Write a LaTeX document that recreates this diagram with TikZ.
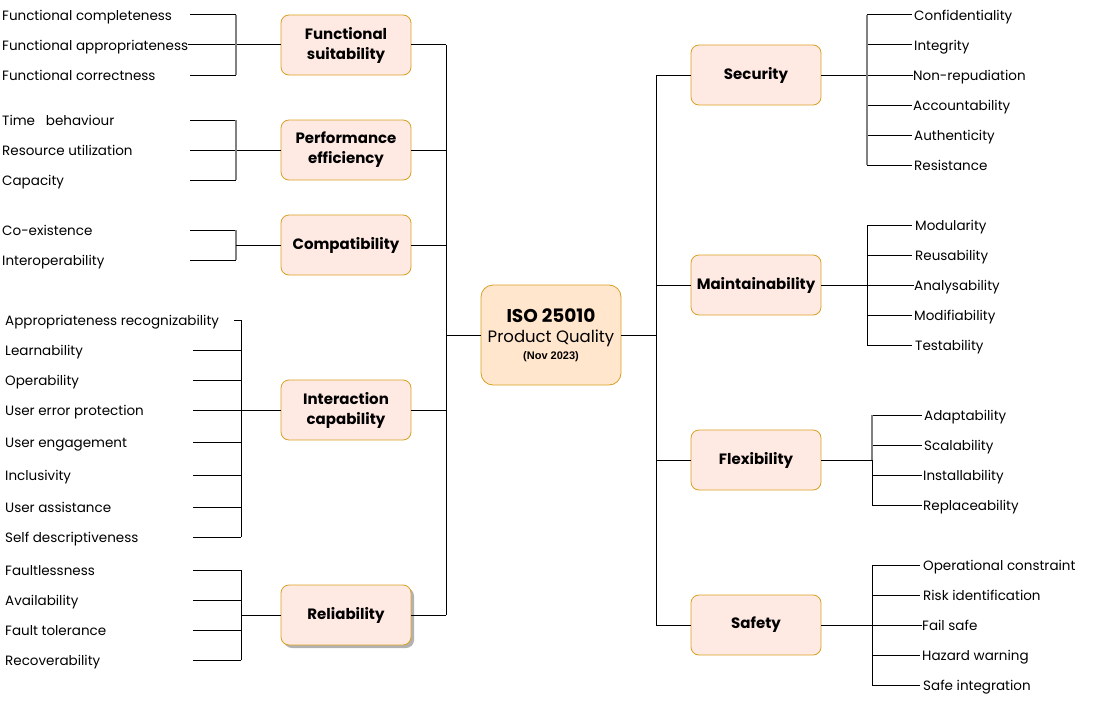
\documentclass[tikz,border=0pt]{standalone}
\usepackage{fontspec}
\setmainfont{Poppins}
\newfontfamily\arialfont{Liberation Sans}
\usetikzlibrary{shadows}
\definecolor{boxfill}{HTML}{FFEAE3}
\definecolor{centerfill}{HTML}{FFE6CC}
\definecolor{boxborder}{HTML}{D9A020}
\definecolor{brkgray}{HTML}{808080}
\tikzset{
  box/.style={draw=boxborder, fill=boxfill, rounded corners=8pt, minimum width=130pt,
    minimum height=60pt, align=center, inner sep=2pt, line width=0.8pt,
    font=\bfseries\fontsize{15}{20}\selectfont},
  leaf/.style={anchor=base west, inner sep=0pt, yshift=-5.4pt, font=\fontsize{13.5}{16}\selectfont},
  conn/.style={draw=black, line width=1pt},
  brk/.style={draw=brkgray, line width=1.6pt},
}
\begin{document}
\begin{tikzpicture}[x=1pt,y=-1pt]
\useasboundingbox (0,0) rectangle (1113,701);
% ---------- centre ----------
\node[box, fill=centerfill, minimum width=140pt, minimum height=100pt, rounded corners=12pt, font=\fontsize{16.5}{20}\selectfont] (iso) at (551,335)
  {{\bfseries\fontsize{18.5}{22}\selectfont ISO 25010}\\Product Quality\\[-3pt]{\arialfont\bfseries\fontsize{11}{13}\selectfont (Nov 2023)}};
% ---------- left boxes ----------
\node[box] (fs) at (346,45) {Functional\\suitability};
\node[box] (pe) at (346,150) {Performance\\efficiency};
\node[box] (co) at (346,245) {Compatibility};
\node[box] (ic) at (346,410) {Interaction\\capability};
\node[box, drop shadow={shadow xshift=3pt, shadow yshift=-3pt, fill=black!30, opacity=1}] (re) at (346,615) {Reliability};
% ---------- right boxes ----------
\node[box] (se) at (756,75) {Security};
\node[box] (ma) at (756,285) {Maintainability};
\node[box] (fl) at (756,460) {Flexibility};
\node[box] (sa) at (756,625) {Safety};
% ---------- trunks ----------
\coordinate (ltop) at (446,45);
\coordinate (lbot) at (446,615);
\draw[conn] (ltop) -- (lbot);
\foreach \b in {fs,pe,co,ic,re} \draw[conn] (\b.east) -- (\b.east -| ltop);
\draw[conn] (iso.west) -- (iso.west -| ltop);
\coordinate (rtop) at (656,75);
\coordinate (rbot) at (656,625);
\draw[conn] (rtop) -- (rbot);
\foreach \b in {se,ma,fl,sa} \draw[conn] (\b.west) -- (\b.west -| rtop);
\draw[conn] (iso.east) -- (iso.east -| rtop);
% ---------- functional suitability ----------
\node[leaf] (fs1) at (2,15) {Functional completeness};
\node[leaf] (fs2) at (2,45) {Functional appropriateness};
\node[leaf] (fs3) at (2,75) {Functional correctness};
\coordinate (fsa1) at (190,15); \coordinate (fsa3) at (190,75);
\coordinate (fsb1) at (236,15); \coordinate (fsb3) at (236,75);
\draw[conn] (fsa1) -- (fsb1);
\draw[conn] (fsa3) -- (fsb3);
\draw[conn] (fs2.east |- fs.west) -- (fs.west);
\draw[brk] (fsb1) -- (fsb3);
% ---------- performance efficiency ----------
\node[leaf] (pe1) at (2,120) {Time \ \ behaviour};
\node[leaf] (pe2) at (2,150) {Resource utilization};
\node[leaf] (pe3) at (2,180) {Capacity};
\coordinate (pea1) at (190,120); \coordinate (pea2) at (190,150); \coordinate (pea3) at (190,180);
\coordinate (peb1) at (236,120); \coordinate (peb3) at (236,180);
\draw[conn] (pea1) -- (peb1);
\draw[conn] (pea3) -- (peb3);
\draw[conn] (pea2) -- (pe.west);
\draw[brk] (peb1) -- (peb3);
% ---------- compatibility ----------
\node[leaf] (co1) at (2,230) {Co-existence};
\node[leaf] (co2) at (2,260) {Interoperability};
\coordinate (coa1) at (190,230); \coordinate (coa2) at (190,260);
\coordinate (cob1) at (236,230); \coordinate (cob2) at (236,260);
\draw[conn] (coa1) -- (cob1);
\draw[conn] (coa2) -- (cob2);
\draw[brk] (cob1) -- (cob2);
\draw[conn] (co.west) -- (co.west -| cob1);
% ---------- interaction capability ----------
\node[leaf] (ic1) at (5,320) {Appropriateness recognizability};
\node[leaf] (ic2) at (5,350) {Learnability};
\node[leaf] (ic3) at (5,380) {Operability};
\node[leaf] (ic4) at (5,410) {User error protection};
\node[leaf] (ic5) at (5,442) {User engagement};
\node[leaf] (ic6) at (5,475) {Inclusivity};
\node[leaf] (ic7) at (5,507) {User assistance};
\node[leaf] (ic8) at (5,537) {Self descriptiveness};
\coordinate (icb1) at (241,320); \coordinate (icb8) at (241,537);
\coordinate (ica1) at (234,320);
\draw[conn] (ica1) -- (icb1);
\foreach \i/\y in {2/350,3/380,5/442,6/475,7/507,8/537}
  \draw[conn] (193,\y) coordinate (ica\i) -- (241,\y) coordinate (icb\i);
\coordinate (ica4) at (193,410);
\draw[conn] (ica4) -- (ic.west);
\draw[conn] (icb1) -- (icb8);
% ---------- reliability ----------
\node[leaf] (re1) at (5,570) {Faultlessness};
\node[leaf] (re2) at (5,600) {Availability};
\node[leaf] (re3) at (5,630) {Fault tolerance};
\node[leaf] (re4) at (5,660) {Recoverability};
\foreach \i/\y in {1/570,2/600,3/630,4/660}
  \draw[conn] (193,\y) coordinate (rea\i) -- (241,\y) coordinate (reb\i);
\draw[conn] (reb1) -- (reb4);
\draw[conn] (re.west) -- (re.west -| reb1);
% ---------- security ----------
\node[leaf] (se1) at (914,15) {Confidentiality};
\node[leaf] (se2) at (914,45) {Integrity};
\node[leaf] (se3) at (913,75) {Non-repudiation};
\node[leaf] (se4) at (913,105) {Accountability};
\node[leaf] (se5) at (914,135) {Authenticity};
\node[leaf] (se6) at (914,165) {Resistance};
\coordinate (seb1) at (867,15); \coordinate (seb6) at (867,165);
\foreach \i/\y in {1/15,2/45,4/105,5/135,6/165}
  \draw[conn] (867,\y) coordinate (seb\i) -- (912,\y);
\draw[conn] (se.east) -- (se.east -| se3.west);
\draw[brk] (seb1) -- (seb6);
% ---------- maintainability ----------
\node[leaf] (ma1) at (915,225) {Modularity};
\node[leaf] (ma2) at (915,255) {Reusability};
\node[leaf] (ma3) at (914,285) {Analysability};
\node[leaf] (ma4) at (914,315) {Modifiability};
\node[leaf] (ma5) at (915,345) {Testability};
\coordinate (mab1) at (867,225); \coordinate (mab5) at (867,345);
\foreach \i/\y in {1/225,2/255,4/315,5/345}
  \draw[conn] (867,\y) coordinate (mab\i) -- (912,\y);
\draw[conn] (ma.east) -- (ma.east -| ma3.west);
\draw[conn] (mab1) -- (mab5);
% ---------- flexibility ----------
\node[leaf] (fl1) at (924,415) {Adaptability};
\node[leaf] (fl2) at (924,445) {Scalability};
\node[leaf] (fl3) at (923,475) {Installability};
\node[leaf] (fl4) at (923,505) {Replaceability};
\coordinate (flb1) at (872,415); \coordinate (flb4) at (872,505);
\foreach \i/\y in {1/415,2/445,3/475,4/505}
  \draw[conn] (872,\y) coordinate (flb\i) -- (922,\y);
\draw[brk] (flb1) -- (872,460);
\draw[conn] (872,460) -- (flb4);
\draw[conn] (fl.east) -- (fl.east -| flb1);
% ---------- safety ----------
\node[leaf] (sa1) at (923,565) {Operational constraint};
\node[leaf] (sa2) at (923,595) {Risk identification};
\node[leaf] (sa3) at (922,625) {Fail safe};
\node[leaf] (sa4) at (922,655) {Hazard warning};
\node[leaf] (sa5) at (923,685) {Safe integration};
\coordinate (sab1) at (872,565); \coordinate (sab5) at (872,685);
\foreach \i/\y in {1/565,2/595,4/655,5/685}
  \draw[conn] (872,\y) coordinate (sab\i) -- (920,\y);
\draw[conn] (sa.east) -- (sa.east -| sa3.west);
\draw[conn] (sab1) -- (sab5);
\end{tikzpicture}
\end{document}
